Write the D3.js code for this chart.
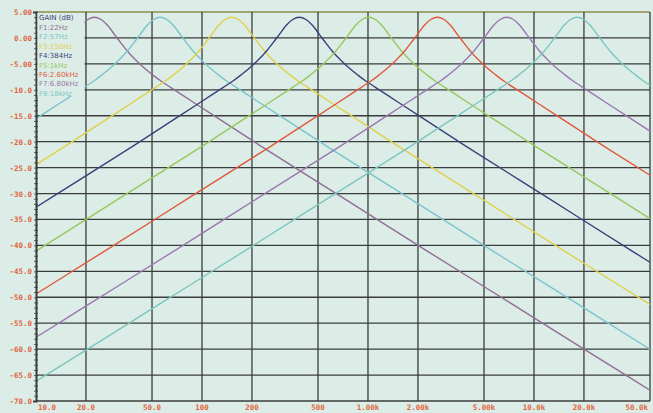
<!DOCTYPE html>
<html>
<head>
<meta charset="utf-8">
<script src="https://cdn.jsdelivr.net/npm/d3@7"></script>
<style>
  html, body { margin: 0; padding: 0; background: #dcede7; }
  svg { display: block; }
</style>
</head>
<body>
<svg id="chart" width="653" height="413"></svg>
<script>
// Eight band-pass filter sections, gain in dB against frequency (log scale)
const filterNames = ["F1:22Hz", "F2:57Hz", "F3:150Hz", "F4:384Hz", "F5:1kHz", "F6:2.60kHz", "F7:6.80kHz", "F8:18kHz"];
const centerFreqs = [22.5, 56, 151, 386, 1010, 2620, 6850, 18200];
const curveColors = ["#8f6f95", "#79c4cc", "#e0d04a", "#3c3f7c", "#95c95c", "#e0593a", "#9a78b0", "#7cc6bf"];

// Response of one section: offset from its centre (decades) and gain (dB)
const responseOffsets = [-3.6, -3, -2.5, -2, -1.5, -1, -0.75, -0.6, -0.5, -0.4, -0.35, -0.3, -0.25, -0.2, -0.16, -0.12, -0.08, -0.04, 0,
                          0.04, 0.08, 0.12, 0.16, 0.2, 0.25, 0.3, 0.35, 0.4, 0.5, 0.6, 0.75, 1, 1.5, 2, 2.5, 3, 3.6];
const responseGains   = [-73, -61, -51, -41, -30.9, -20.8, -15.6, -12.5, -10.4, -8.3, -7.1, -5.8, -4.3, -2.6, -1.0, 0.7, 2.4, 3.55, 4.0,
                          3.55, 2.4, 0.7, -1.0, -2.6, -4.3, -5.8, -7.1, -8.3, -10.4, -12.5, -15.6, -20.8, -30.9, -41, -51, -61, -73];

// Axis ticks
const yTicks = [5, 0, -5, -10, -15, -20, -25, -30, -35, -40, -45, -50, -55, -60, -65, -70];
const yTickLabels = ["5.00", "0.00", "-5.00", "-10.0", "-15.0", "-20.0", "-25.0", "-30.0", "-35.0", "-40.0", "-45.0", "-50.0", "-55.0", "-60.0", "-65.0", "-70.0"];
const xTicks = [10, 20, 50, 100, 200, 500, 1000, 2000, 5000, 10000, 20000, 50000];
const xTickLabels = ["10.0", "20.0", "50.0", "100", "200", "500", "1.00k", "2.00k", "5.00k", "10.0k", "20.0k", "50.0k"];

const svg = d3.select("#chart");
const margin = { left: 36, right: 3, top: 12, bottom: 12 };
const W = 653, H = 413;

const x = d3.scaleLog().domain([10, 50000]).range([margin.left, W - margin.right]);
const y = d3.scaleLinear().domain([5, -70]).range([margin.top, H - margin.bottom]);

const gridColor = "#3a3d3d";
const labelColor = "#e0643c";

svg.append("defs").append("clipPath").attr("id", "plot-clip")
  .append("rect")
  .attr("x", x(10)).attr("y", y(5) - 2)
  .attr("width", x(50000) - x(10)).attr("height", y(-70) - y(5) + 2);

// Grid
const grid = svg.append("g");
grid.selectAll("line.h").data(yTicks).join("line")
  .attr("x1", x(10)).attr("x2", x(50000))
  .attr("y1", d => y(d)).attr("y2", d => y(d))
  .attr("stroke", d => d === 5 ? "#8f8c4a" : gridColor)
  .attr("stroke-width", 1.3);
grid.selectAll("line.v").data(xTicks.slice(1)).join("line")
  .attr("x1", d => x(d)).attr("x2", d => x(d))
  .attr("y1", y(5)).attr("y2", y(-70))
  .attr("stroke", gridColor)
  .attr("stroke-width", 1.3);

// Curves
const line = d3.line()
  .x(p => x(p[0]))
  .y(p => y(p[1]))
  .curve(d3.curveCatmullRom.alpha(0.5));

const curves = svg.append("g").attr("clip-path", "url(#plot-clip)");
centerFreqs.forEach((fc, i) => {
  const pts = responseOffsets.map((o, k) => [fc * Math.pow(10, o), responseGains[k]]);
  curves.append("path")
    .attr("d", line(pts))
    .attr("fill", "none")
    .attr("stroke", curveColors[i])
    .attr("stroke-width", 1.4);
});

// Left axis with fine ticks
const yAxis = d3.axisLeft(y)
  .tickValues(d3.range(5, -70.5, -1))
  .tickSize(3)
  .tickFormat("");
const yAxisG = svg.append("g").attr("transform", `translate(${x(10)},0)`).call(yAxis);
yAxisG.select(".domain").attr("stroke", gridColor).attr("stroke-width", 2);
yAxisG.selectAll(".tick line").attr("stroke", gridColor).attr("stroke-width", 0.8).attr("x2", 2).attr("x1", -2);

// Y tick labels
svg.append("g").selectAll("text").data(yTicks).join("text")
  .attr("x", x(10) - 4)
  .attr("y", d => y(d) + 3)
  .attr("text-anchor", "end")
  .attr("fill", labelColor)
  .attr("font-family", "DejaVu Sans Mono, monospace")
  .attr("font-weight", "bold")
  .attr("font-size", 7.5)
  .text((d, i) => yTickLabels[i]);

// X tick labels
svg.append("g").selectAll("text").data(xTicks).join("text")
  .attr("x", (d, i) => i === 0 ? x(d) + 2 : i === xTicks.length - 1 ? x(d) - 2 : x(d))
  .attr("y", y(-70) + 9)
  .attr("text-anchor", (d, i) => i === 0 ? "start" : i === xTicks.length - 1 ? "end" : "middle")
  .attr("fill", labelColor)
  .attr("font-family", "DejaVu Sans Mono, monospace")
  .attr("font-weight", "bold")
  .attr("font-size", 7.5)
  .text((d, i) => xTickLabels[i]);

// Legend
const legend = svg.append("g");
legend.append("rect")
  .attr("x", x(10) + 1.5).attr("y", y(5) + 1)
  .attr("width", 47).attr("height", 83)
  .attr("fill", "#dcede7");
legend.append("text")
  .attr("x", x(10) + 3).attr("y", y(5) + 8)
  .attr("fill", "#3c3f7c")
  .attr("font-family", "DejaVu Sans, sans-serif")
  .attr("font-size", 7)
  .text("GAIN (dB)");
legend.selectAll("text.item").data(filterNames).join("text")
  .attr("class", "item")
  .attr("x", x(10) + 3)
  .attr("y", (d, i) => y(5) + 18 + i * 9.4)
  .attr("fill", (d, i) => curveColors[i])
  .attr("font-family", "DejaVu Sans, sans-serif")
  .attr("font-size", 7)
  .text(d => d);
</script>
</body>
</html>
